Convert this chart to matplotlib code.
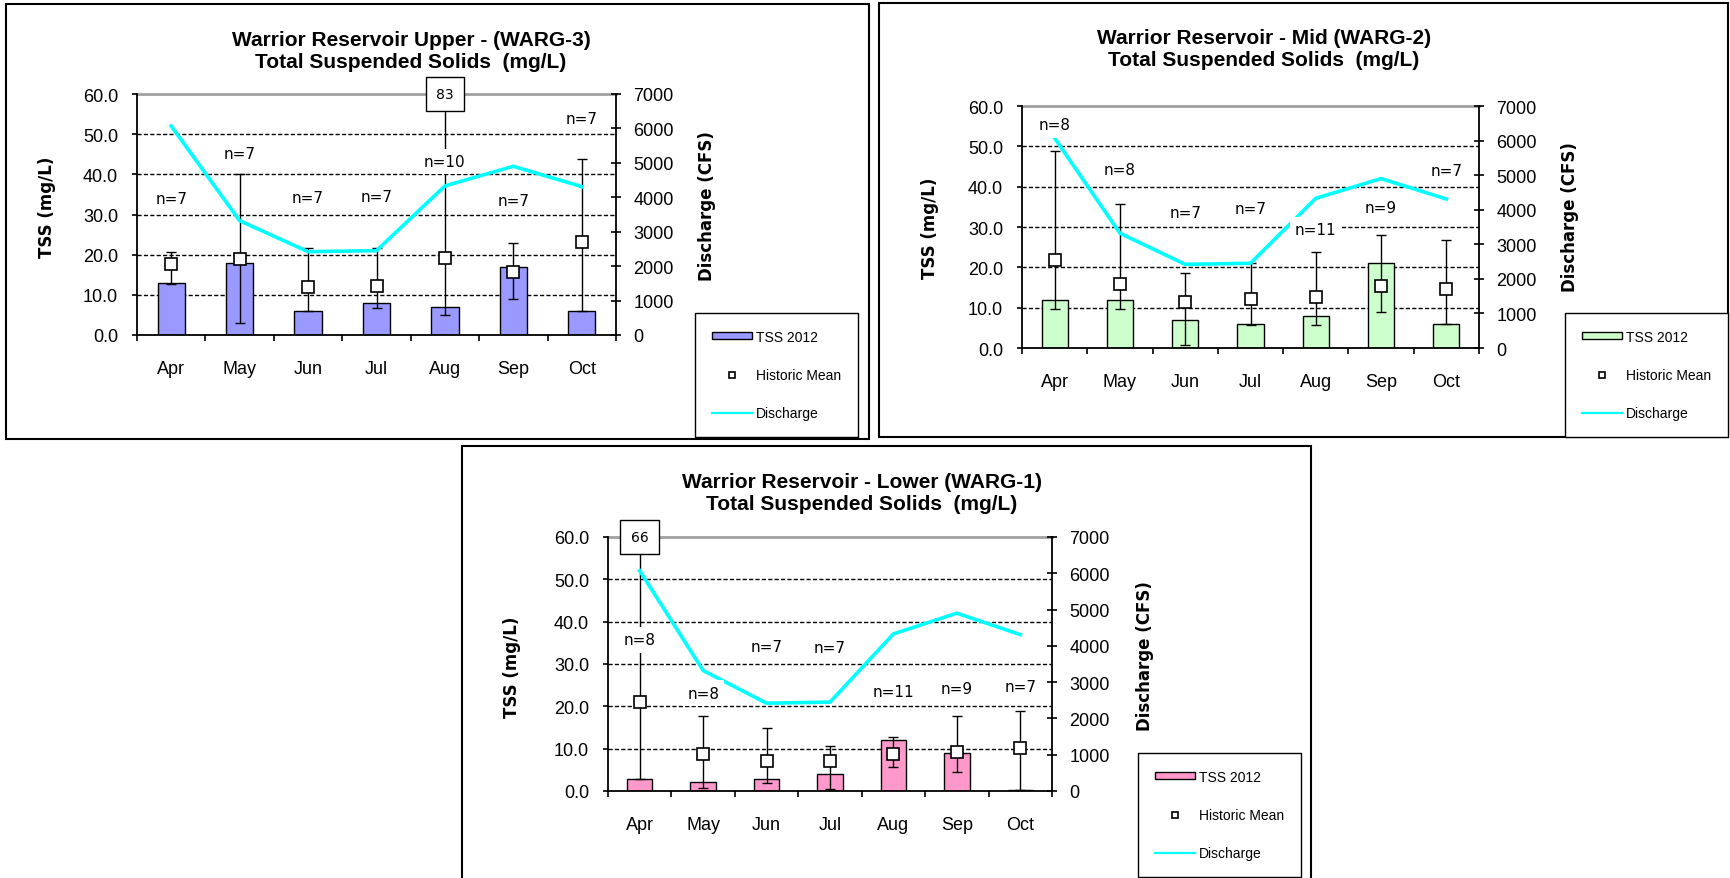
import matplotlib
matplotlib.use('Agg')
import matplotlib.pyplot as plt
from matplotlib.patches import Rectangle, Patch
from matplotlib.lines import Line2D
import numpy as np

plt.rcParams['font.family'] = ['Liberation Sans', 'DejaVu Sans']

W, H, DPI = 1730, 879, 100

# ---------------- data ----------------
months = ['Apr', 'May', 'Jun', 'Jul', 'Aug', 'Sep', 'Oct']
discharge = [6070, 3320, 2420, 2450, 4330, 4900, 4310]
tss_ticks = [0, 10, 20, 30, 40, 50, 60]
cfs_ticks = [0, 1000, 2000, 3000, 4000, 5000, 6000, 7000]

# Upper (WARG-3)
tss_up = [13, 18, 6, 8, 7, 17, 6]
mean_up = [17.8, 18.9, 11.9, 12.2, 19.2, 15.6, 23.2]
low_up = [12.8, 3.0, 6.0, 6.7, 4.9, 9.0, 6.0]
high_up = [20.6, 40.0, 21.7, 21.7, 83.0, 22.8, 43.7]
n_up = [7, 7, 7, 7, 10, 7, 7]
npos_up = [33.9, 45.2, 34.3, 34.5, 43.2, 33.4, 54.0]

# Mid (WARG-2)
tss_mid = [12, 12, 7, 6, 8, 21, 6]
mean_mid = [21.8, 15.8, 11.3, 12.1, 12.7, 15.4, 14.7]
low_mid = [9.7, 9.7, 0.7, 5.7, 5.7, 9.0, 5.9]
high_mid = [48.8, 35.8, 18.6, 21.0, 23.8, 28.0, 26.8]
n_mid = [8, 8, 7, 7, 11, 9, 7]
npos_mid = [55.3, 44.3, 33.6, 34.7, 29.3, 34.9, 44.1]

# Lower (WARG-1)
tss_low = [2.9, 2.1, 2.8, 3.9, 12.1, 9.0, 0.3]
mean_low = [21.1, 8.8, 7.1, 7.1, 8.7, 9.3, 10.1]
low_low = [2.9, 0.8, 1.8, 0.4, 5.7, 4.6, 0.3]
high_low = [66.0, 17.7, 14.9, 10.7, 12.8, 17.6, 18.9]
n_low = [8, 8, 7, 7, 11, 9, 7]
npos_low = [35.7, 23.1, 34.2, 33.9, 23.4, 24.2, 24.7]

fig = plt.figure(figsize=(W / DPI, H / DPI), dpi=DPI)
fig.patch.set_facecolor('white')


def frame(x0, y0, x1, y1):
    fig.add_artist(Rectangle((x0 / W, 1 - y1 / H), (x1 - x0) / W, (y1 - y0) / H,
                             transform=fig.transFigure, fill=False,
                             edgecolor='black', lw=1.5))


def panel(fr, axbox, title, title_xy, ylab_l_xy, ylab_r_xy, leg_xy, color,
          tss, mean, low, high, n, npos):
    frame(*fr)
    left, top, right, bottom = axbox
    ax = fig.add_axes([left / W, 1 - bottom / H, (right - left) / W, (bottom - top) / H])
    x = np.arange(len(months))
    ax.set_xlim(-0.5, len(months) - 0.5)
    ax.set_ylim(tss_ticks[0], tss_ticks[-1])
    ax.set_facecolor('none')

    for v in tss_ticks[1:-1]:
        ax.axhline(v, color='black', lw=1, ls=(0, (3, 1.6)), zorder=1)
    ax.axhline(tss_ticks[-1], color='#a0a0a0', lw=2, zorder=1, clip_on=False)

    ax.bar(x, tss, width=0.4, color=color, edgecolor='black', lw=1, zorder=2)
    mean = np.array(mean); low = np.array(low); high = np.array(high)
    ax.errorbar(x, mean, yerr=[mean - low, high - mean], fmt='none', ecolor='black',
                elinewidth=1, capsize=3.5, capthick=1, zorder=3)
    ax.plot(x, mean, 's', ms=8, mfc='white', mec='black', mew=1.2, zorder=4)

    ax.set_yticks(tss_ticks)
    ax.set_yticklabels([f'{v:.1f}' for v in tss_ticks], fontsize=13)
    ax.tick_params(axis='y', direction='out', length=3.6, width=1.2, pad=10)
    ax.set_xticks(np.arange(-0.5, len(months), 1))
    ax.set_xticklabels([])
    ax.set_xticks(x, minor=True)
    ax.set_xticklabels(months, minor=True, fontsize=13)
    ax.tick_params(axis='x', which='major', direction='out', length=4, width=1.2)
    ax.tick_params(axis='x', which='minor', length=0, pad=18)
    for s in ['top', 'right']:
        ax.spines[s].set_visible(False)
    ax.spines['left'].set_linewidth(1.3)
    ax.spines['bottom'].set_linewidth(1.3)

    ax2 = ax.twinx()
    ax2.set_ylim(cfs_ticks[0], cfs_ticks[-1])
    ax2.set_yticks(cfs_ticks)
    ax2.set_yticklabels([str(v) for v in cfs_ticks], fontsize=13)
    ax2.tick_params(axis='y', direction='inout', length=7, width=1.2, pad=9)
    for s in ['top', 'left', 'bottom']:
        ax2.spines[s].set_visible(False)
    ax2.spines['right'].set_linewidth(1.3)
    ax2.plot(x, discharge, color='#00ffff', lw=2.6, zorder=2)

    for i in range(len(months)):
        ax2.text(x[i], npos[i], f'n={n[i]}', transform=ax.transData, ha='center',
                 va='center', fontsize=11, family='DejaVu Sans', zorder=5,
                 bbox=dict(boxstyle='square,pad=0.35', fc='white', ec='none'))
        if high[i] > tss_ticks[-1]:
            ax2.text(x[i], tss_ticks[-1], f'{high[i]:.0f}', transform=ax.transData,
                     ha='center', va='center', fontsize=10, family='DejaVu Sans',
                     zorder=6, clip_on=False,
                     bbox=dict(boxstyle='square,pad=0.75', fc='white', ec='black', lw=1))

    fig.text(title_xy[0] / W, 1 - title_xy[1] / H, title, ha='center', va='center',
             fontsize=15, fontweight='bold', linespacing=1.2)
    fig.text(ylab_l_xy[0] / W, 1 - ylab_l_xy[1] / H, 'TSS (mg/L)', rotation=90,
             ha='center', va='center', fontsize=12, fontweight='bold', family='DejaVu Sans')
    fig.text(ylab_r_xy[0] / W, 1 - ylab_r_xy[1] / H, 'Discharge (CFS)', rotation=90,
             ha='center', va='center', fontsize=12, fontweight='bold', family='DejaVu Sans')

    handles = [Patch(facecolor=color, edgecolor='black', lw=1),
               Line2D([], [], marker='s', ms=5, mfc='white', mec='black', mew=1.2, ls='none'),
               Line2D([], [], color='#00ffff', lw=1.6)]
    leg = fig.legend(handles, ['TSS 2012', 'Historic Mean', 'Discharge'], loc='upper left',
                     bbox_to_anchor=(leg_xy[0] / W, 1 - leg_xy[1] / H),
                     bbox_transform=fig.transFigure, borderaxespad=0, frameon=True,
                     fancybox=False, edgecolor='black', framealpha=1, fontsize=10,
                     labelspacing=1.75, handlelength=2.9, handleheight=0.4,
                     handletextpad=0.3, borderpad=1.2)
    leg.get_frame().set_linewidth(1.0)
    return ax, ax2


panel((6, 5, 869, 440), (137, 95, 616, 336),
      'Warrior Reservoir Upper - (WARG-3)\nTotal Suspended Solids  (mg/L)', (411, 52),
      (47, 207), (707, 206), (695, 314), '#9999ff',
      tss_up, mean_up, low_up, high_up, n_up, npos_up)

panel((879, 4, 1728, 438), (1022, 107, 1479, 349),
      'Warrior Reservoir - Mid (WARG-2)\nTotal Suspended Solids  (mg/L)', (1264, 50),
      (930, 228), (1570, 217), (1565, 314), '#ccffcc',
      tss_mid, mean_mid, low_mid, high_mid, n_mid, npos_mid)

panel((462, 447, 1311, 890), (608, 538, 1052, 792),
      'Warrior Reservoir - Lower (WARG-1)\nTotal Suspended Solids  (mg/L)', (862, 494),
      (512, 667), (1145, 656), (1138, 754), '#ff99cc',
      tss_low, mean_low, low_low, high_low, n_low, npos_low)

fig.savefig('out.png', dpi=DPI, facecolor='white')
